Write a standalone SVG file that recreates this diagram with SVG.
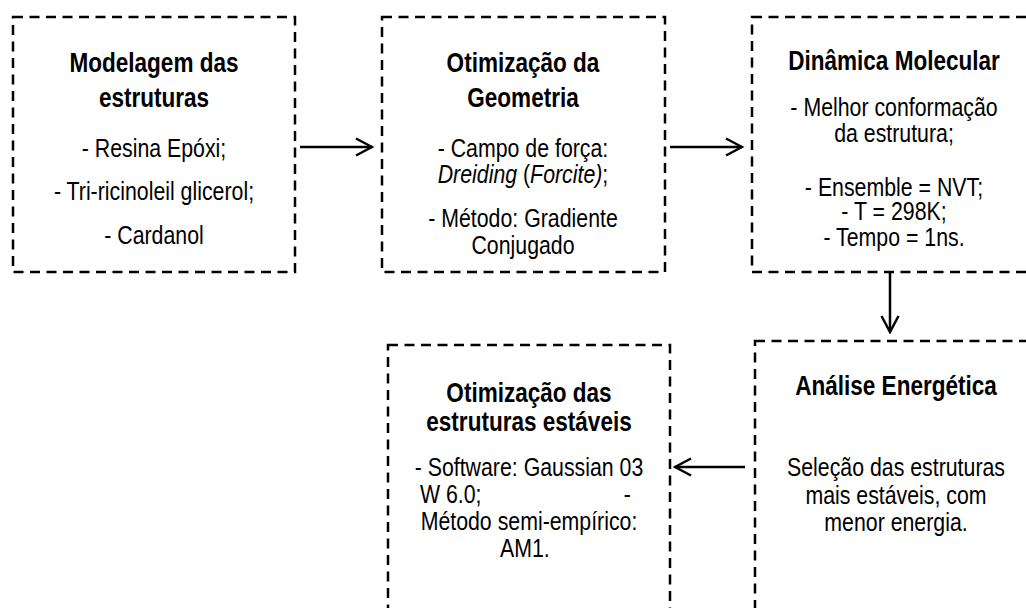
<svg xmlns="http://www.w3.org/2000/svg" width="1026" height="608" viewBox="0 0 1026 608">
<defs>
<style>
.box{fill:none;stroke:#000;stroke-width:2.5;stroke-dasharray:10 6.5}
.t{font-family:"Liberation Sans",Arial,sans-serif;font-size:26px;fill:#000;text-anchor:middle}
.h{font-weight:bold;font-size:27.5px}
.i{font-style:italic}
.c{fill:none;stroke:#000;stroke-width:2.5}
</style>
<marker id="ah" viewBox="0 0 20 20" refX="18" refY="10" markerWidth="20" markerHeight="20" markerUnits="userSpaceOnUse" orient="auto">
<path d="M2,1.5 L18,10 L2,18.5" fill="none" stroke="#000" stroke-width="2.5"/>
</marker>
</defs>
<rect width="1026" height="608" fill="#fff"/>
<g id="n1">
<rect class="box" x="13" y="17" width="282" height="255"/>
<g transform="translate(154 0) scale(0.82 1)">
<text class="t h" x="0" y="72">Modelagem das</text>
<text class="t h" x="0" y="107">estruturas</text>
<text class="t" x="0" y="157">- Resina Epóxi;</text>
<text class="t" x="0" y="200">- Tri-ricinoleil glicerol;</text>
<text class="t" x="0" y="244">- Cardanol</text>
</g>
</g>
<g id="n2">
<rect class="box" x="382" y="17" width="283" height="255"/>
<g transform="translate(523 0) scale(0.82 1)">
<text class="t h" x="0" y="72">Otimização da</text>
<text class="t h" x="0" y="107">Geometria</text>
<text class="t" x="0" y="157">- Campo de força:</text>
<text class="t" x="0" y="183"><tspan class="i">Dreiding</tspan> (<tspan class="i">Forcite)</tspan>;</text>
<text class="t" x="0" y="227">- Método: Gradiente</text>
<text class="t" x="0" y="254">Conjugado</text>
</g>
</g>
<g id="n3">
<rect class="box" x="752" y="17" width="290" height="255"/>
<g transform="translate(894 0) scale(0.82 1)">
<text class="t h" x="0" y="70">Dinâmica Molecular</text>
<text class="t" x="0" y="116">- Melhor conformação</text>
<text class="t" x="0" y="142">da estrutura;</text>
<text class="t" x="0" y="196">- Ensemble = NVT;</text>
<text class="t" x="0" y="220">- T = 298K;</text>
<text class="t" x="0" y="246">- Tempo = 1ns.</text>
</g>
</g>
<g id="n4">
<rect class="box" x="755" y="341" width="290" height="290"/>
<g transform="translate(896 0) scale(0.82 1)">
<text class="t h" x="0" y="395">Análise Energética</text>
<text class="t" x="0" y="476">Seleção das estruturas</text>
<text class="t" x="0" y="504">mais estáveis, com</text>
<text class="t" x="0" y="531">menor energia.</text>
</g>
</g>
<g id="n5">
<rect class="box" x="388" y="345" width="282" height="290"/>
<g transform="translate(529 0) scale(0.82 1)">
<text class="t h" x="0" y="402">Otimização das</text>
<text class="t h" x="0" y="431">estruturas estáveis</text>
<text class="t" x="0" y="476">- Software: Gaussian 03</text>
<text class="t" x="-133" y="503" style="text-anchor:start">W 6.0;</text>
<text class="t" x="120" y="503">-</text>
<text class="t" x="0" y="530">Método semi-empírico:</text>
<text class="t" x="-5" y="557">AM1.</text>
</g>
</g>
<g id="connectors">
<line class="c" x1="300" y1="147" x2="372" y2="147" marker-end="url(#ah)"/>
<line class="c" x1="670" y1="147" x2="742" y2="147" marker-end="url(#ah)"/>
<line class="c" x1="890" y1="272" x2="890" y2="332" marker-end="url(#ah)"/>
<line class="c" x1="745" y1="467" x2="675" y2="467" marker-end="url(#ah)"/>
</g>
</svg>
